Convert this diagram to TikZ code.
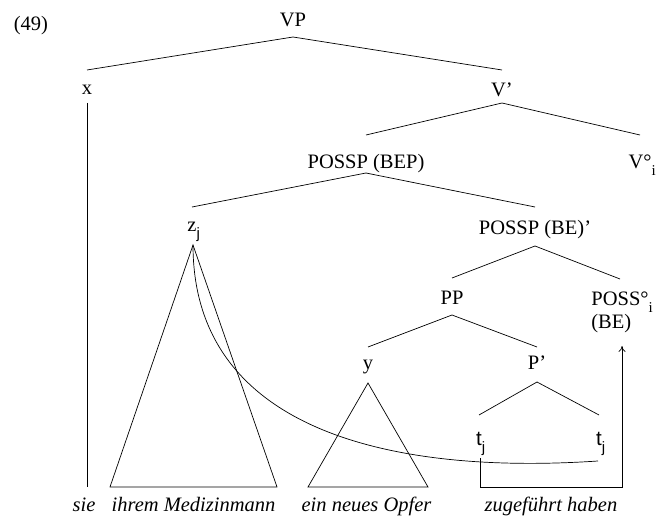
\documentclass[tikz,border=0pt]{standalone}
\usepackage{fontspec}
\setmainfont{Liberation Serif}
\newfontfamily\tfont{Liberation Sans}
\usetikzlibrary{arrows.meta,calc}
\newcommand\mysub[1]{\rlap{\raisebox{-7pt}{\fontsize{15}{15}\selectfont #1}}}
\newcommand\mybranch[4]{\draw ($(#1.base)+(0,#2)$) -- ($(#3.base)+(0,#4)$);}
\begin{document}
\begin{tikzpicture}[x=1pt,y=-1pt,line width=0.7pt,
  lab/.style={anchor=base,inner sep=0pt,text height=14pt,text depth=4pt,font=\fontsize{20.5}{24}\selectfont},
  word/.style={anchor=base,inner sep=0pt,font=\fontsize{20.5}{24}\selectfont\itshape}]
\useasboundingbox (0,0) rectangle (661,518);
% labels
\node[lab] (ex) at (31,31) {(49)};
\node[lab] (VP) at (293,27) {VP};
\node[lab] (x) at (87,95) {x};
\node[lab] (V1) at (502,97) {V’};
\node[lab] (BEP) at (366,169) {POSSP (BEP)};
\node[lab] (V0) at (640,169) {V°\mysub{i}};
\node[lab] (z) at (192,232) {z\mysub{\tfont j}};
\node[lab] (BE1) at (535,235) {POSSP (BE)’};
\node[lab] (PP) at (452,305) {PP};
\node[lab] (POSS) at (620,306) {POSS°\mysub{i}};
\node[lab,anchor=base west] (BE) at ($(POSS.base west)+(0,23)$) {(BE)};
\node[lab] (y) at (368,370) {y};
\node[lab] (P1) at (537,370) {P’};
\node[lab] (t1) at (479,445) {\tfont t\mysub{j}};
\node[lab] (t2) at (599,445) {\tfont t\mysub{j}};
% words
\node[word] (w1) at (84,511) {sie};
\node[word] (w2) at (193.5,511) {ihrem Medizinmann};
\node[word] (w3) at (366.5,511) {ein neues Opfer};
\node[word] (w4) at (551,511) {zugeführt haben};
% branches
\mybranch{VP}{10}{x}{-25}
\mybranch{VP}{10}{V1}{-27}
\mybranch{V1}{6}{BEP}{-34}
\mybranch{V1}{6}{V0}{-34}
\mybranch{BEP}{4}{z}{-25}
\mybranch{BEP}{4}{BE1}{-28}
\mybranch{BE1}{11}{PP}{-27}
\mybranch{BE1}{11}{POSS}{-27}
\mybranch{PP}{10}{y}{-23}
\mybranch{PP}{10}{P1}{-23}
\mybranch{P1}{12}{t1}{-30}
\mybranch{P1}{12}{t2}{-30}
% x stem
\draw ($(x.base)+(0,8)$) -- ++(0,384);
% triangles
\draw ($(z.base)+(1,13)$) -- ++(-83,242) -- ++(167,0) -- cycle;
\draw ($(y.base)+(0,13)$) -- ++(-60,104) -- ++(120,0) -- cycle;
% movement curve
\draw ($(z.base)+(1,13)$) .. controls +(0,185) and +(-208,14) .. ($(t2.base)+(-1,16)$);
% bracket arrow
\coordinate (brk) at (622,487);
\draw[-{To[length=6pt,width=7pt]}] ($(t1.base)+(1,13)$) |- (brk) -- ($(brk |- BE.base)+(0,17)$);
\end{tikzpicture}
\end{document}
